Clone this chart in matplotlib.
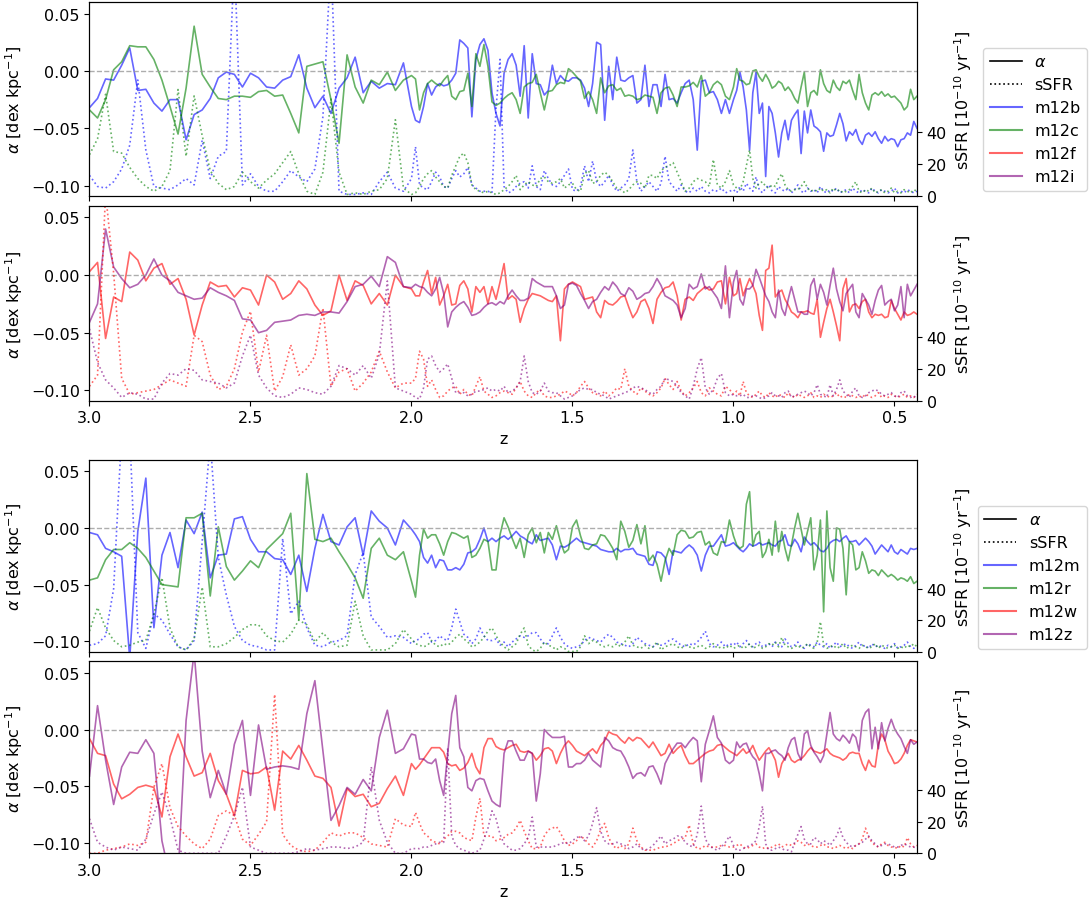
import numpy as np
import matplotlib
matplotlib.use("Agg")
import matplotlib.pyplot as plt
from matplotlib.lines import Line2D

# ---------------- data ----------------
# snapshot redshifts (shared by all series)
z = [3.0, 2.975, 2.95, 2.925, 2.9, 2.875, 2.85, 2.825, 2.8, 2.775,
     2.75, 2.725, 2.7, 2.675, 2.65, 2.625, 2.6, 2.575, 2.55, 2.525,
     2.5, 2.475, 2.45, 2.425, 2.4, 2.375, 2.35, 2.325, 2.3, 2.275,
     2.25, 2.225, 2.2, 2.175, 2.15, 2.125, 2.1, 2.075, 2.05, 2.025,
     2.0, 1.9875, 1.975, 1.9625, 1.95, 1.9375, 1.925, 1.9125, 1.9, 1.8875,
     1.875, 1.8625, 1.85, 1.8375, 1.825, 1.8125, 1.8, 1.7875, 1.775, 1.7625,
     1.75, 1.7375, 1.725, 1.7125, 1.7, 1.6875, 1.675, 1.6625, 1.65, 1.6375,
     1.625, 1.6125, 1.6, 1.5875, 1.575, 1.5625, 1.55, 1.5375, 1.525, 1.5125,
     1.5, 1.4875, 1.475, 1.4625, 1.45, 1.4375, 1.425, 1.4125, 1.4, 1.3875,
     1.375, 1.3625, 1.35, 1.3375, 1.325, 1.3125, 1.3, 1.2875, 1.275, 1.2625,
     1.25, 1.2375, 1.225, 1.2125, 1.2, 1.1875, 1.175, 1.1625, 1.15, 1.1375,
     1.125, 1.1125, 1.1, 1.0875, 1.075, 1.0625, 1.05, 1.0375, 1.025, 1.0125,
     1.0, 0.99, 0.98, 0.97, 0.96, 0.95, 0.94, 0.93, 0.92, 0.91,
     0.9, 0.89, 0.88, 0.87, 0.86, 0.85, 0.84, 0.83, 0.82, 0.81,
     0.8, 0.79, 0.78, 0.77, 0.76, 0.75, 0.74, 0.73, 0.72, 0.71,
     0.7, 0.69, 0.68, 0.67, 0.66, 0.65, 0.64, 0.63, 0.62, 0.61,
     0.6, 0.59, 0.58, 0.57, 0.56, 0.55, 0.54, 0.53, 0.52, 0.51,
     0.5, 0.49, 0.48, 0.47, 0.46, 0.45, 0.44, 0.43]

# metallicity gradients alpha, in units of 1e-3 dex/kpc
alpha_m12b = [
    -32, -24, -7, -8, 5, 20, -17, -16, -28, -35,
    -25, -25, -60, -38, -34, -24, -6, -1, -3, -14,
    -2, -6, -14, -15, -8, -5, 14, -15, -32, -22,
    -37, -15, -6, 12, -19, -9, -15, -11, -12, 7,
    -31, -43, -45, -31, -11, -21, -14, -11, -13, -12,
    -8, -2, 27, 24, 20, -40, 10, 23, 28, 18,
    -19, -37, -48, -2, 10, 15, 5, -22, 22, -41,
    15, -11, -12, -21, -17, 5, -11, -4, -8, -9,
    -6, -6, -8, -15, -31, -11, 25, 23, -43, 4,
    -25, 12, -8, -9, -6, -4, -28, -25, 5, -31,
    -12, -12, -31, -3, -25, -24, -28, -19, -11, -8,
    -25, -69, -9, -8, -19, -18, -25, -37, -25, -37,
    -25, -17, -1, -14, -34, -69, -19, -1, -37, -28,
    -92, -31, -37, -54, -75, -54, -43, -60, -43, -38,
    -34, -72, -35, -54, -34, -48, -50, -53, -70, -54,
    -57, -56, -47, -37, -46, -61, -53, -56, -51, -60,
    -64, -56, -54, -57, -53, -59, -63, -57, -61, -59,
    -60, -66, -60, -59, -54, -56, -44, -50]
alpha_m12c = [
    -34, -41, -25, 1, 8, 22, 21, 21, 10, -8,
    -31, -55, -15, 39, -3, -14, -24, -25, -22, -22,
    -23, -18, -17, -22, -21, -37, -54, 4, 6, 8,
    -25, -63, 14, -14, -28, -8, -12, -1, -17, -8,
    -4, -7, -34, -19, -11, -8, -11, -13, -8, -4,
    -22, -25, -18, -17, -2, -31, 15, 4, 23, 4,
    -27, -30, -28, -24, -21, -19, -25, -37, -14, -11,
    -10, -3, -19, -34, -18, -17, -12, -10, -11, 2,
    -1, -5, -9, -24, -18, -25, -37, -6, -19, -13,
    -12, -17, -15, -22, -21, -22, -25, -24, -21, -22,
    -23, -37, -19, -15, -14, -21, -31, -14, -14, -13,
    -10, -14, -4, -22, -19, -12, -9, -12, -22, -25,
    -14, 2, -8, -9, -12, -11, 0, 1, -5, -9,
    -3, -8, -15, -13, -9, -11, -17, -14, -18, -24,
    -28, -14, -1, -31, -19, -17, -21, 1, -11, -17,
    -19, -8, -14, -17, -9, -11, -8, -17, -25, -3,
    -19, -28, -34, -21, -19, -21, -18, -22, -20, -23,
    -22, -25, -28, -34, -31, -16, -25, -22]
alpha_m12f = [
    3, 11, -55, -19, -23, 20, 13, -5, 6, 10,
    -8, -3, -21, -52, -26, -6, -10, -9, -19, -11,
    -13, -26, 0, -6, -21, -16, -5, -12, -26, -35,
    -31, 0, -22, -5, -9, -25, -16, -26, 0, -10,
    -12, -18, -18, -6, 4, -16, -2, -26, -18, -8,
    -26, -25, -9, -5, -12, -32, -10, -15, -10, -25,
    -10, -21, -6, 10, -21, -18, -21, -41, -29, -21,
    -16, -17, -18, -20, -22, -23, -18, -57, -12, -8,
    -6, -8, -10, -21, -20, -19, -32, -37, -22, -25,
    -26, -23, -19, -18, -28, -37, -32, -23, -21, -29,
    -42, -21, -15, -11, -10, -6, -18, -39, -21, -19,
    -22, -16, -13, -10, -13, -12, -6, -5, -25, -2,
    -18, -16, -3, -18, -10, -3, -9, -16, -35, -48,
    4, 6, 26, -19, -15, -13, -21, -26, -32, -34,
    -37, -32, -32, -31, -33, -34, -21, -54, -41, -29,
    -21, -32, -44, -57, -12, -3, -32, -26, -25, -29,
    -23, -21, -32, -37, -34, -35, -34, -37, -36, -22,
    -29, -34, -39, -32, -35, -34, -32, -34]
alpha_m12i = [
    -41, -25, 40, 7, -3, -11, -8, 0, 14, 0,
    -5, -15, -18, -21, -20, -11, -15, -18, -22, -38,
    -39, -50, -48, -41, -40, -39, -35, -34, -35, -32,
    -32, -33, -23, -10, -8, -1, -10, 16, 11, -10,
    -11, -8, -10, -11, -15, -18, -12, -2, -16, -45,
    -32, -28, -25, -23, -28, -35, -34, -32, -28, -25,
    -24, -26, -23, -25, -18, -13, -18, -22, -22, -20,
    -3, -6, -8, -10, -10, -10, -18, -29, -26, -8,
    -7, -9, -16, -22, -29, -23, -21, -15, -10, -13,
    -6, -10, -16, -18, -11, -14, -21, -19, -16, -15,
    -10, -3, -9, -18, -20, -22, -26, -37, -29, -8,
    -12, -10, 1, -12, -10, -15, -20, -29, 8, -37,
    -6, 4, -21, -26, -12, -12, -9, 5, -2, -10,
    -18, -23, -32, -37, -13, -29, -35, -21, -10, -21,
    -32, -32, -34, -34, -9, -3, -21, -8, -15, -26,
    -9, 6, -12, -23, -31, -16, -12, -8, -32, -37,
    -16, -21, -26, -34, -22, -13, -9, -26, -23, -21,
    -31, -26, -10, -37, -8, -18, -13, -8]
alpha_m12m = [
    -4, -6, -18, -21, -25, -115, -3, 44, -88, -24,
    -4, -35, 7, -5, 14, -44, -24, -23, 8, 10,
    -10, -21, -21, -27, -28, -41, -24, -56, -18, 12,
    -12, -15, 1, 9, -24, 15, 6, 0, -15, 7,
    -1, -6, -12, -26, -31, -24, -35, -28, -29, -37,
    -37, -35, -37, -32, -22, -21, -18, -10, 0, -12,
    -9, -12, -9, -7, -10, -7, -3, -7, -9, -12,
    -14, -6, -11, -10, -9, -15, -28, -16, -17, -15,
    -12, -9, -12, -13, -14, -15, -16, -19, -20, -21,
    -21, -18, -21, -19, -19, -18, -23, -24, -25, -32,
    -33, -21, -22, -26, -41, -20, -21, -22, -18, -15,
    -18, -24, -38, -24, -16, -16, -11, -6, -16, -15,
    -13, -16, -19, -21, -18, -14, -16, -15, -13, -15,
    -14, -13, -15, -16, -12, -11, -6, -15, -16, -10,
    -14, -21, -8, -12, -15, -13, -16, -20, -21, -18,
    -13, -11, -10, -12, -9, -7, -12, -12, -11, -15,
    -12, -9, -12, -16, -23, -19, -15, -18, -21, -15,
    -21, -23, -19, -21, -23, -18, -19, -18]
alpha_m12r = [
    -46, -44, -28, -19, -19, -13, -18, -26, -38, -50,
    -51, -52, 9, 9, 13, -60, 1, -34, -46, -38,
    -29, -35, -19, -12, -5, 13, -81, 48, -10, -12,
    -9, -21, -32, -44, -62, -18, -9, -24, -28, -21,
    -47, -61, -24, -1, -9, -6, -6, -14, -24, -12,
    -4, -5, -7, -9, -7, -26, -24, -18, -10, -12,
    -37, -37, -6, 9, 1, -9, -18, -9, -26, -6,
    0, -13, -4, -22, -4, -10, 2, -12, -22, -19,
    1, 7, -7, -18, -19, -15, -14, -6, -7, -12,
    -18, -28, 6, -3, -17, -11, 3, -14, 2, -29,
    -24, -32, -47, -29, -18, -24, -6, -2, -3, -9,
    -8, -4, -3, -15, -12, -22, -24, -12, -13, 7,
    -7, -15, -18, -16, 21, 32, -16, -6, -3, -26,
    -21, -10, -24, 6, -21, -3, -18, -29, -15, 0,
    13, -1, -15, -3, 9, -37, -24, 7, -74, 15,
    -35, -47, 0, -1, -18, -59, -12, -15, -37, -35,
    -21, -29, -40, -37, -38, -42, -37, -40, -43, -41,
    -43, -46, -44, -45, -47, -43, -49, -47]
alpha_m12w = [
    -8, -21, -23, -48, -61, -57, -51, -49, -51, -77,
    -24, -4, -24, -41, -38, -21, -45, -57, -76, -36,
    -39, -38, -33, -71, -19, -26, -14, -27, -41, -43,
    -51, -85, -52, -59, -57, -68, -65, -52, -41, -58,
    -30, -35, -31, -26, -21, -16, -16, -16, -20, -30,
    -32, -31, -36, -34, -29, -21, -33, -39, -16, -8,
    -8, -15, -17, -18, -16, -14, -13, -19, -20, -19,
    -21, -27, -23, -17, -16, -19, -30, -21, -14, -10,
    -14, -19, -21, -23, -20, -17, -21, -14, -10, -2,
    -4, -5, -9, -12, -7, -10, -7, -8, -12, -16,
    -11, -17, -23, -21, -13, -21, -17, -14, -23, -30,
    -30, -27, -24, -21, -19, -18, -14, -13, -16, -19,
    -21, -23, -20, -17, -21, -19, -14, -21, -27, -23,
    -19, -16, -21, -27, -42, -30, -25, -21, -27, -29,
    -27, -26, -23, -19, -16, -19, -20, -21, -19, -17,
    -21, -23, -24, -25, -27, -25, -21, -20, -21, -21,
    -30, -36, -27, -32, -33, -13, -4, -9, -19, -24,
    -30, -29, -26, -21, -14, -9, -10, -11]
alpha_m12z = [
    -41, 21, -27, -66, -33, -20, -21, -9, -21, -98,
    -130, -130, 8, 68, -19, -60, -36, -57, -13, 8,
    -58, 4, -35, -33, -32, -33, -35, 14, 43, -19,
    -80, -67, -51, -57, -44, -54, -7, 17, -21, -17,
    -4, -5, -26, -26, -29, -30, -26, -45, -58, -21,
    14, 30, -16, -24, -51, -54, -45, -43, -44, -54,
    -63, -66, -68, -21, -10, -10, -19, -27, -27, -19,
    -21, -63, -39, 0, -4, -7, -7, -7, -6, -33,
    -33, -30, -30, -27, -21, -27, -30, -33, -7, -10,
    -16, -18, -19, -25, -33, -43, -39, -38, -41, -33,
    -32, -39, -48, -30, -23, -17, -12, -12, -16, -11,
    -7, -10, -46, -13, -1, 12, -7, -12, -27, -30,
    -27, -11, -16, -13, -12, -19, -24, -27, -39, -54,
    -21, -21, -19, -18, -21, -23, -27, -16, -9, -7,
    -21, -27, -4, -1, -14, -20, -24, -29, -23, -4,
    15, -4, -8, -10, -5, -8, -12, -4, -7, -19,
    8, 15, 18, -17, 2, -17, 6, -10, 1, 9,
    1, -4, -8, -15, -21, -9, -13, -11]

# specific star formation rates, in 1e-10 / yr
ssfr_m12b = [
    13, 6, 5, 9, 17, 32, 73, 29, 6, 5,
    4, 7, 11, 7, 35, 11, 25, 28, 150, 7,
    14, 6, 3, 3, 9, 16, 12, 9, 17, 50,
    150, 3, 1, 1, 2, 1, 9, 15, 5, 3,
    11, 31, 7, 5, 4, 9, 15, 12, 6, 5,
    11, 16, 12, 14, 18, 7, 5, 3, 3, 3,
    2, 55, 86, 6, 2, 3, 6, 8, 9, 5,
    19, 6, 4, 16, 11, 7, 6, 9, 13, 17,
    4, 3, 6, 19, 9, 22, 9, 6, 9, 13,
    7, 3, 5, 7, 11, 29, 9, 3, 6, 9,
    6, 3, 8, 25, 9, 6, 3, 7, 3, 2,
    5, 3, 6, 3, 2, 4, 3, 5, 2, 3,
    4, 2, 6, 3, 8, 5, 3, 12, 4, 2,
    5, 7, 3, 2, 6, 4, 3, 5, 2, 4,
    7, 3, 2, 5, 3, 4, 2, 6, 3, 2,
    4, 3, 5, 2, 3, 4, 2, 5, 3, 2,
    4, 3, 2, 5, 3, 2, 4, 3, 2, 3,
    5, 2, 3, 2, 4, 3, 2, 3]
ssfr_m12c = [
    26, 36, 64, 28, 27, 18, 11, 6, 3, 6,
    16, 67, 25, 63, 38, 16, 8, 4, 6, 15,
    9, 5, 10, 14, 21, 28, 14, 3, 1, 15,
    61, 15, 1, 2, 1, 3, 4, 11, 48, 5,
    1, 2, 6, 11, 14, 16, 12, 9, 6, 5,
    13, 19, 25, 27, 21, 7, 4, 3, 2, 3,
    2, 1, 2, 4, 6, 9, 13, 4, 7, 9,
    7, 6, 11, 12, 9, 8, 9, 11, 5, 7,
    8, 4, 3, 14, 16, 8, 9, 13, 15, 13,
    9, 5, 4, 2, 4, 7, 9, 8, 5, 13,
    13, 11, 16, 18, 19, 21, 15, 9, 3, 5,
    9, 11, 10, 9, 6, 23, 7, 5, 9, 16,
    7, 5, 4, 9, 19, 29, 11, 5, 8, 9,
    6, 5, 7, 6, 11, 14, 7, 4, 3, 4,
    4, 6, 9, 5, 3, 4, 3, 5, 3, 4,
    2, 5, 3, 4, 2, 3, 4, 6, 9, 3,
    2, 4, 3, 5, 2, 3, 4, 2, 3, 5,
    2, 3, 2, 4, 3, 2, 4, 3]
ssfr_m12f = [
    9, 16, 130, 80, 14, 4, 5, 6, 7, 10,
    13, 11, 9, 41, 37, 16, 7, 9, 20, 43,
    56, 18, 41, 6, 15, 35, 16, 20, 28, 58,
    9, 18, 20, 6, 11, 18, 31, 18, 8, 11,
    11, 14, 31, 26, 9, 13, 7, 2, 3, 6,
    8, 9, 4, 7, 4, 3, 9, 15, 6, 4,
    2, 3, 5, 6, 5, 4, 8, 12, 6, 3,
    2, 5, 7, 3, 2, 2, 3, 4, 6, 5,
    3, 5, 9, 12, 8, 5, 4, 3, 6, 3,
    5, 8, 7, 20, 9, 6, 4, 8, 6, 4,
    3, 5, 8, 14, 10, 7, 12, 6, 3, 5,
    8, 12, 5, 3, 8, 6, 4, 3, 9, 7,
    4, 6, 3, 12, 5, 3, 2, 4, 6, 3,
    2, 5, 3, 2, 4, 3, 2, 5, 3, 2,
    4, 3, 2, 3, 5, 2, 3, 2, 4, 3,
    2, 3, 5, 2, 3, 2, 4, 3, 2, 3,
    2, 4, 3, 2, 3, 5, 2, 3, 2, 4,
    3, 2, 3, 4, 2, 3, 2, 4]
ssfr_m12i = [
    45, 24, 13, 8, 2, 5, 4, 1, 1, 11,
    17, 16, 20, 19, 13, 12, 11, 8, 11, 28,
    41, 16, 8, 3, 2, 4, 8, 7, 5, 4,
    9, 22, 20, 16, 22, 14, 29, 75, 8, 6,
    4, 2, 1, 8, 26, 28, 22, 18, 20, 23,
    14, 5, 5, 5, 3, 4, 6, 6, 7, 8,
    6, 7, 6, 9, 5, 6, 8, 12, 28, 12,
    5, 4, 6, 11, 6, 5, 5, 3, 1, 2,
    3, 5, 7, 8, 7, 7, 5, 4, 3, 1,
    2, 3, 4, 5, 6, 8, 9, 8, 7, 5,
    4, 7, 9, 14, 13, 12, 9, 5, 3, 1,
    9, 20, 27, 8, 4, 7, 14, 17, 5, 3,
    4, 3, 3, 4, 2, 2, 3, 3, 2, 1,
    2, 3, 5, 3, 3, 2, 5, 6, 2, 3,
    4, 5, 6, 5, 3, 5, 10, 4, 3, 2,
    10, 3, 7, 13, 6, 4, 2, 6, 8, 3,
    2, 3, 5, 6, 7, 6, 4, 3, 4, 5,
    3, 2, 5, 6, 3, 2, 3, 1]
ssfr_m12m = [
    4, 5, 10, 40, 140, 140, 12, 2, 24, 20,
    11, 3, 1, 7, 70, 135, 60, 36, 16, 7,
    4, 3, 1, 1, 72, 24, 32, 15, 4, 3,
    6, 7, 10, 49, 63, 22, 16, 9, 10, 9,
    5, 7, 8, 11, 12, 6, 7, 10, 8, 7,
    15, 27, 19, 11, 9, 5, 8, 15, 10, 7,
    7, 8, 4, 6, 3, 6, 8, 10, 9, 10,
    12, 12, 8, 5, 5, 10, 15, 9, 5, 3,
    2, 3, 4, 7, 9, 8, 7, 6, 9, 11,
    9, 6, 5, 4, 3, 5, 9, 7, 5, 4,
    3, 5, 4, 5, 7, 8, 6, 4, 3, 5,
    4, 6, 9, 13, 5, 3, 4, 6, 3, 5,
    4, 6, 3, 5, 7, 4, 3, 5, 6, 3,
    4, 5, 3, 6, 4, 3, 8, 5, 3, 4,
    6, 3, 2, 5, 4, 3, 6, 4, 3, 5,
    2, 4, 6, 3, 4, 5, 3, 2, 4, 6,
    3, 4, 2, 5, 3, 4, 3, 2, 4, 3,
    5, 2, 3, 4, 6, 3, 2, 3]
ssfr_m12r = [
    13, 28, 15, 7, 3, 4, 6, 7, 24, 47,
    15, 3, 1, 8, 41, 3, 3, 5, 9, 14,
    17, 17, 10, 7, 6, 11, 20, 17, 6, 12,
    6, 3, 4, 32, 10, 1, 1, 1, 5, 14,
    8, 5, 4, 3, 4, 7, 4, 3, 5, 4,
    6, 9, 11, 8, 6, 3, 4, 6, 9, 13,
    15, 10, 6, 3, 1, 3, 5, 11, 15, 4,
    1, 0, 2, 6, 4, 3, 1, 3, 2, 0,
    0, 0, 3, 10, 5, 7, 6, 4, 3, 4,
    3, 5, 3, 6, 10, 4, 3, 2, 4, 2,
    3, 6, 1, 3, 4, 5, 3, 2, 4, 3,
    2, 3, 4, 2, 3, 5, 2, 3, 2, 4,
    2, 3, 4, 2, 3, 5, 2, 3, 4, 2,
    3, 5, 4, 6, 3, 9, 4, 3, 2, 3,
    4, 2, 3, 5, 3, 2, 6, 19, 4, 2,
    3, 4, 2, 3, 5, 2, 3, 4, 3, 2,
    4, 3, 2, 3, 5, 2, 4, 3, 2, 3,
    4, 2, 3, 2, 4, 3, 5, 3]
ssfr_m12w = [
    0, 0, 2, 3, 4, 6, 5, 7, 42, 57,
    29, 17, 11, 6, 3, 9, 24, 27, 24, 9,
    5, 12, 20, 101, 12, 5, 2, 1, 2, 7,
    13, 11, 13, 13, 10, 6, 5, 4, 22, 18,
    17, 26, 19, 13, 11, 8, 7, 6, 9, 11,
    14, 14, 13, 10, 9, 8, 23, 35, 11, 11,
    11, 8, 9, 10, 12, 13, 16, 21, 14, 8,
    3, 3, 4, 11, 15, 16, 17, 13, 8, 5,
    6, 8, 11, 9, 6, 4, 8, 15, 19, 10,
    5, 3, 5, 3, 6, 16, 8, 4, 2, 2,
    2, 3, 4, 4, 5, 6, 8, 9, 10, 18,
    6, 3, 3, 5, 4, 4, 4, 5, 5, 4,
    4, 5, 6, 4, 3, 4, 5, 6, 4, 3,
    4, 3, 4, 5, 6, 4, 5, 6, 5, 6,
    8, 7, 5, 6, 5, 4, 4, 5, 6, 4,
    4, 3, 4, 5, 4, 3, 4, 3, 5, 6,
    9, 16, 10, 7, 5, 4, 6, 7, 5, 4,
    4, 3, 5, 4, 10, 6, 4, 5]
ssfr_m12z = [
    22, 7, 4, 2, 4, 3, 2, 9, 25, 39,
    23, 2, 0, 0, 0, 0, 0, 11, 24, 42,
    4, 2, 0, 0, 0, 0, 1, 3, 2, 3,
    4, 4, 3, 4, 7, 55, 21, 7, 0, 0,
    3, 3, 3, 4, 4, 5, 6, 7, 7, 67,
    11, 5, 3, 2, 1, 0, 1, 2, 9, 16,
    27, 22, 12, 6, 4, 2, 2, 3, 6, 10,
    23, 4, 4, 4, 4, 4, 5, 6, 7, 6,
    8, 10, 11, 8, 11, 19, 29, 14, 8, 6,
    6, 7, 6, 5, 3, 4, 6, 3, 2, 3,
    5, 8, 11, 6, 8, 9, 11, 11, 7, 5,
    4, 12, 30, 9, 5, 3, 2, 4, 7, 11,
    5, 2, 2, 3, 4, 5, 6, 8, 17, 30,
    6, 2, 2, 3, 4, 3, 2, 2, 1, 7,
    12, 17, 9, 6, 6, 10, 9, 6, 8, 7,
    5, 8, 11, 16, 10, 7, 5, 4, 5, 6,
    7, 9, 11, 8, 6, 4, 5, 6, 6, 5,
    4, 4, 5, 6, 5, 4, 4, 3]

# ---------------- figure ----------------
plt.rcParams['font.size'] = 11.5

fig = plt.figure(figsize=(10.9, 9.03), dpi=100)
left, width = 0.0821, 0.7592
panel_boxes = [(0.7818, 0.2148), (0.5552, 0.2156), (0.2774, 0.2121), (0.0539, 0.2126)]

panels = [
    [("m12b", "blue", alpha_m12b, ssfr_m12b), ("m12c", "green", alpha_m12c, ssfr_m12c)],
    [("m12f", "red", alpha_m12f, ssfr_m12f), ("m12i", "purple", alpha_m12i, ssfr_m12i)],
    [("m12m", "blue", alpha_m12m, ssfr_m12m), ("m12r", "green", alpha_m12r, ssfr_m12r)],
    [("m12w", "red", alpha_m12w, ssfr_m12w), ("m12z", "purple", alpha_m12z, ssfr_m12z)],
]

zarr = np.asarray(z)
for p, (bottom, height) in enumerate(panel_boxes):
    ax = fig.add_axes([left, bottom, width, height])
    ax2 = ax.twinx()
    for name, col, a, s in panels[p]:
        assert len(a) == len(z), (name, len(a))
        assert len(s) == len(z), (name, len(s))
        ax.plot(zarr, np.asarray(a) * 1e-3, color=col, alpha=0.6, lw=1.2)
        ax2.plot(zarr, s, color=col, alpha=0.6, lw=1.2, ls=':')
    ax.axhline(0, color='0.6', ls='--', lw=1.0, alpha=0.8)
    ax.set_xlim(3.0, 0.43)
    ax.set_ylim(-0.109, 0.06)
    ax.set_yticks([-0.10, -0.05, 0.00, 0.05])
    ax.set_ylabel(r'$\alpha$ [dex kpc$^{-1}$]')
    ax2.set_ylim(0, 122)
    ax2.set_yticks([0, 20, 40])
    ax2.set_ylabel(r'sSFR [$10^{-10}$ yr$^{-1}$]')
    ax.set_xticks([3.0, 2.5, 2.0, 1.5, 1.0, 0.5])
    if p % 2 == 0:
        ax.tick_params(labelbottom=False)
    else:
        ax.set_xlabel('z')

# legends
def legend_handles(names, cols):
    h = [Line2D([], [], color='k', ls='-', lw=1.2),
         Line2D([], [], color='k', ls=':', lw=1.2)]
    for c in cols:
        h.append(Line2D([], [], color=c, alpha=0.6, lw=1.5))
    return h, [r'$\alpha$', 'sSFR'] + names

h1, l1 = legend_handles(['m12b', 'm12c', 'm12f', 'm12i'], ['blue', 'green', 'red', 'purple'])
fig.legend(h1, l1, loc='upper right', bbox_to_anchor=(1087 / 1090, 1 - 49 / 903), borderaxespad=0)
h2, l2 = legend_handles(['m12m', 'm12r', 'm12w', 'm12z'], ['blue', 'green', 'red', 'purple'])
fig.legend(h2, l2, loc='upper right', bbox_to_anchor=(1087 / 1090, 1 - 507 / 903), borderaxespad=0)

fig.savefig('out.png', dpi=100)
